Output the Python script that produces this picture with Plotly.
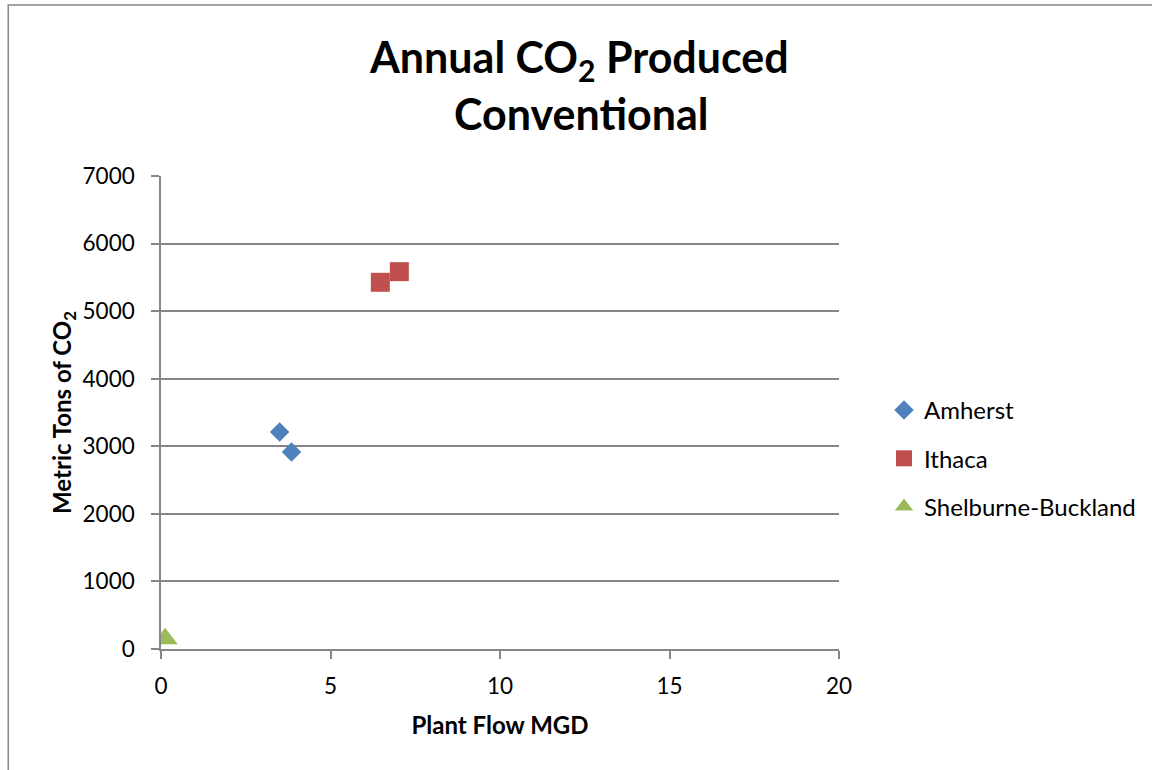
import plotly.graph_objects as go

series_names = ["Amherst", "Ithaca", "Shelburne-Buckland"]
amherst_x = [3.5, 3.85]
amherst_y = [3210, 2915]
ithaca_x = [6.47, 7.03]
ithaca_y = [5427, 5584]
shelburne_x = [0.12]
shelburne_y = [150]
x_ticks = [0, 5, 10, 15, 20]
y_ticks = [0, 1000, 2000, 3000, 4000, 5000, 6000, 7000]
title_lines = ["<b>Annual CO<sub>2</sub> Produced</b>", "<b>Conventional</b>"]

FONT = "Lato, 'Open Sans', sans-serif"
GRAY = "#868686"

fig = go.Figure()
fig.add_trace(go.Scatter(x=amherst_x, y=amherst_y, mode="markers", name=series_names[0],
                         legendgroup="a",
                         marker=dict(symbol="diamond", size=15, color="#4F81BD")))
fig.add_trace(go.Scatter(x=ithaca_x, y=ithaca_y, mode="markers", name=series_names[1],
                         legendgroup="b",
                         marker=dict(symbol="square", size=19, color="#C0504D")))
fig.add_trace(go.Scatter(x=shelburne_x, y=shelburne_y, mode="markers", name=series_names[2],
                         legendgroup="c",
                         marker=dict(symbol="triangle-up", size=22, color="#9BBB59")))

W, H = 1152, 770
L, R, T, B = 161, W - 840, 176, H - 649
pw, ph = W - L - R, H - T - B


def px_x(x):
    return (x - L) / pw


def px_y(y):
    return (H - B - y) / ph


fig.update_layout(
    width=W, height=H,
    margin=dict(l=L, r=R, t=T, b=B),
    paper_bgcolor="white", plot_bgcolor="white",
    font=dict(family=FONT, color="black", size=22),
    showlegend=True,
    xaxis=dict(range=[0, 20], tickvals=x_ticks, showgrid=False, zeroline=False,
               showline=True, linecolor=GRAY, linewidth=1.5, ticks="outside",
               tickcolor=GRAY, ticklen=8, tickwidth=1.5, ticklabelstandoff=8,
               title=dict(text="<b>Plant Flow MGD</b>", font=dict(size=24), standoff=19),
               tickfont=dict(size=22.5)),
    yaxis=dict(range=[0, 7000], tickvals=y_ticks, showgrid=True, gridcolor=GRAY, gridwidth=1.5,
               zeroline=False, showline=True, linecolor=GRAY, linewidth=1.5, ticks="outside",
               tickcolor=GRAY, ticklen=8, tickwidth=1.5, ticklabelstandoff=12,
               title=dict(text="<b>Metric Tons of CO<sub>2</sub></b>", font=dict(size=24), standoff=4),
               tickfont=dict(size=22.5)),
    legend=dict(x=px_x(884), y=px_y(388), xanchor="left", yanchor="top",
                font=dict(size=24), tracegroupgap=14,
                bgcolor="rgba(0,0,0,0)"),
    annotations=[
        dict(text=title_lines[0], xref="paper", yref="paper", x=px_x(580), y=px_y(59),
             xanchor="center", yanchor="middle", showarrow=False, font=dict(size=43)),
        dict(text=title_lines[1], xref="paper", yref="paper", x=px_x(582), y=px_y(113),
             xanchor="center", yanchor="middle", showarrow=False, font=dict(size=43)),
    ],
    shapes=[dict(type="rect", xref="paper", yref="paper",
                 x0=px_x(8), x1=px_x(1170),
                 y0=px_y(790), y1=px_y(5),
                 line=dict(color=GRAY, width=1.5), fillcolor="rgba(0,0,0,0)", layer="below")],
)

fig.write_html("out.html", config={"displayModeBar": False},
               post_script="document.body.style.margin='0';")
